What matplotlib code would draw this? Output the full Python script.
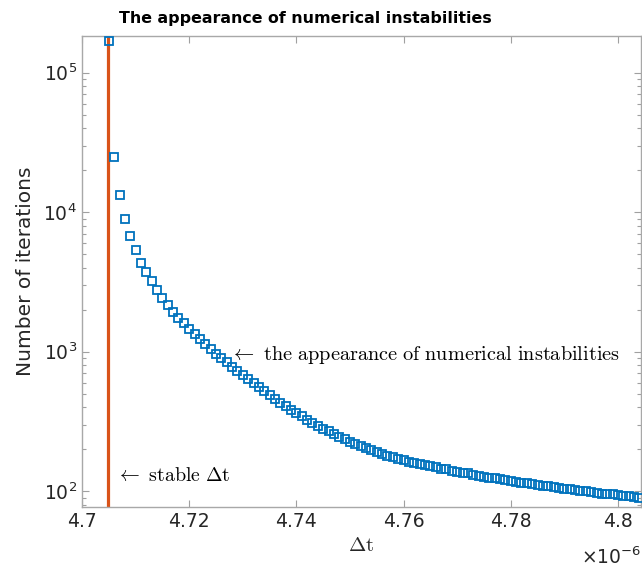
import matplotlib
matplotlib.use("Agg")
import matplotlib.pyplot as plt
from matplotlib.ticker import FixedLocator, FuncFormatter, LogLocator, NullFormatter
import numpy as np

# time step (in units of 1e-6 s) and the iteration count reached at each one
dt = np.round(np.arange(4.705, 4.8045, 0.001), 3)
iterations = [
    169000, 24900, 13380, 8970, 6740, 5325, 4351, 3709, 3199, 2773,
    2418, 2156, 1937, 1752, 1593, 1453, 1331, 1224, 1129, 1044,
    966, 899, 837, 779, 727, 679, 634, 592, 554, 519,
    487, 457, 430, 405, 383, 362, 343, 325, 309, 294,
    281, 268, 256, 246, 236, 226, 218, 210, 203, 197,
    190, 185, 180, 175, 171, 167, 163, 160, 157, 154,
    151, 148, 145, 143, 140, 138, 136, 134, 131, 129,
    127, 125, 124, 122, 120, 118, 117, 115, 114, 112,
    111, 109, 108, 107, 105, 104, 103, 102, 101, 100,
    98, 97, 96, 95, 95, 94, 93, 92, 91, 90,
]
dt_stable = 4.7048
x_ticks = [4.70, 4.72, 4.74, 4.76, 4.78, 4.80]

blue = "#0072BD"
orange = "#D95319"
axis_grey = "#262626"

fig = plt.figure(figsize=(6.42, 5.67), dpi=100)
ax = fig.add_axes([82 / 642, 59.7 / 567, 559 / 642, 471.6 / 567])

ax.axvline(dt_stable, color=orange, lw=2.3, zorder=2)
ax.plot(dt, iterations, ls="none", marker="s", ms=5.7, mfc="none",
        mec=blue, mew=1.3, zorder=3)

ax.set_yscale("log")
ax.set_xlim(4.7, 4.8043)
ax.set_ylim(76.6, 1.84e5)

ax.xaxis.set_major_locator(FixedLocator(x_ticks))
ax.xaxis.set_major_formatter(FuncFormatter(lambda v, p: "%g" % round(v, 4)))
ax.yaxis.set_major_locator(LogLocator(base=10, numticks=10))
ax.yaxis.set_minor_locator(LogLocator(base=10, subs=np.arange(2, 10), numticks=10))
ax.yaxis.set_minor_formatter(NullFormatter())

for s in ax.spines.values():
    s.set_color("#a8a8a8")
    s.set_linewidth(1.0)
ax.tick_params(which="both", direction="in", top=True, right=True,
               colors="#a0a0a0", labelcolor=axis_grey, labelsize=13.5)
ax.tick_params(which="major", length=5, width=0.8)
ax.tick_params(which="minor", length=3, width=0.8)

ax.set_ylabel("Number of iterations", fontsize=14.5, color=axis_grey, labelpad=6)
ax.set_xlabel(r"$\Delta\mathrm{t}$", fontsize=15, math_fontfamily="cm",
              color=axis_grey, labelpad=3)
ax.text(1.0, -0.083, r"$\times10^{-6}$", transform=ax.transAxes,
        fontsize=13.5, color=axis_grey, ha="right", va="top")
ax.set_title("The appearance of numerical instabilities", fontsize=11.4,
             fontweight="bold", x=0.40, pad=9)

ax.text(4.7276, 947, r"$\leftarrow\ \mathrm{the\ appearance\ of\ numerical\ instabilities}$",
        fontsize=14.6, math_fontfamily="cm", va="center", ha="left")
ax.text(4.7064, 130, r"$\leftarrow\ \mathrm{stable}\ \Delta\mathrm{t}$",
        fontsize=14.3, math_fontfamily="cm", va="center", ha="left")

fig.savefig("out.png", dpi=100)
